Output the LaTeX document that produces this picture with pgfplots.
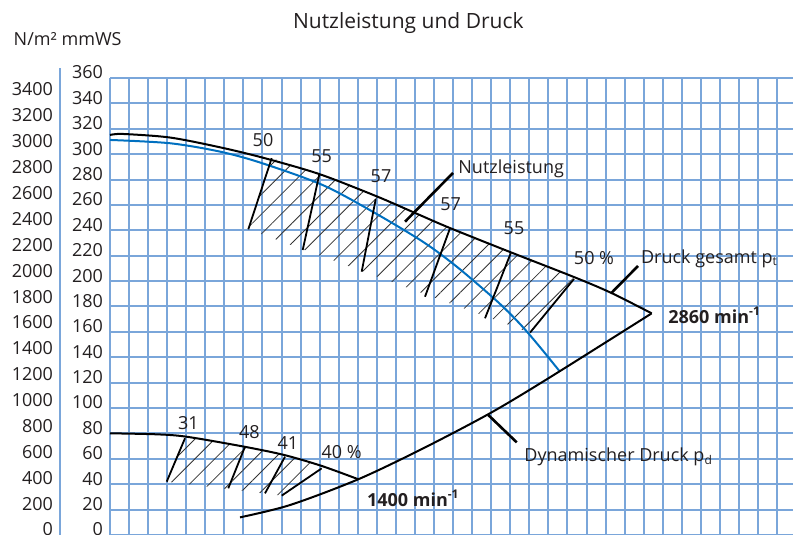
\documentclass[border=0pt]{standalone}
\usepackage{fontspec}
\setmainfont{Open Sans}
\usepackage{pgfplots}
\pgfplotsset{compat=1.18}
\usetikzlibrary{patterns.meta}
\definecolor{gridblue}{RGB}{122,166,218}
\definecolor{curveblue}{RGB}{0,112,192}
\definecolor{txt}{RGB}{35,31,32}
\newcommand{\lab}{\fontsize{9}{10}\selectfont}
\begin{document}
\begin{tikzpicture}
\useasboundingbox (0pt,0pt) rectangle (396.5pt,267.5pt);
% secondary N/m^2 scale
\begin{axis}[
  at={(30pt,0pt)}, anchor=south west,
  scale only axis, width=1pt, height=233.5pt,
  xmin=0, xmax=1, ymin=0, ymax=3609,
  axis x line=none, axis y line=left,
  axis line style={-, gridblue, line width=0.8pt},
  ytick={0,200,...,3400},
  major tick length=0pt,
  yticklabel style={font=\lab, text=txt, yshift=2.75pt},
  /pgf/number format/assume math mode=true,
  /pgf/number format/1000 sep={},
]
\addplot[draw=none] coordinates {(0,0)};
\end{axis}
% main axis
\begin{axis}[
  at={(55pt,0pt)}, anchor=south west,
  scale only axis, width=341.5pt, height=228.5pt,
  xmin=0, xmax=35.834, ymin=0, ymax=360,
  xtick={0,...,35}, xticklabels={},
  ytick={0,20,...,360},
  grid=major, major grid style={gridblue, line width=1pt},
  axis line style={draw=none},
  major tick length=0pt,
  yticklabel style={font=\lab, text=txt, yshift=2.75pt},
  /pgf/number format/assume math mode=true,
  /pgf/number format/1000 sep={},
  clip=false,
]
% hatched efficiency zones
\addplot[draw=none, pattern={Lines[angle=45,distance=7pt,line width=0.4pt]}, pattern color=black!80]
  coordinates {(8.483,296.8)(10.965,284.4)(13.956,267.0)(16.002,253.7)(17.838,241.8)(21.076,222.4)(24.344,203.2)(22.036,159.4)(7.256,240.8)} -- cycle;
\addplot[draw=none, pattern={Lines[angle=45,distance=7pt,line width=0.4pt]}, pattern color=black!80]
  coordinates {(3.935,76.2)(4.024,77.4)(7.030,69.6)(9.145,63.0)(11.107,54.4)(9.008,31.0)(2.975,42.0)} -- cycle;
% Nutzleistung (blue)
\addplot[curveblue, line width=1pt, smooth, tension=0.5] coordinates {
  (0,311.2)(3.148,308.6)(5.771,302.0)(7.938,293.1)(11.154,275.7)(13.778,254.7)(16.438,230.8)(18.190,211.4)(19.937,189.1)(20.813,177.0)(21.684,163.4)(22.560,148.0)(23.610,128.6)};
% Druck gesamt 2860
\addplot[black, line width=1pt, smooth, tension=0.5] coordinates {
  (0,315.1)(0.682,315.9)(3.148,313.1)(5.771,305.4)(8.027,297.2)(10.965,284.4)(13.956,267.0)(16.002,253.7)(17.838,241.8)(21.076,222.4)(24.344,203.2)(26.270,190.9)(28.420,174.6)};
% Dynamischer Druck
\addplot[black, line width=1pt, smooth, tension=0.5] coordinates {
  (6.821,13.9)(9.444,23.6)(13.027,43.9)(16.438,68.3)(19.937,95.9)(22.996,123.4)(28.420,174.6)};
% Druck gesamt 1400
\addplot[black, line width=1pt, smooth, tension=0.5] coordinates {
  (0,80.1)(2.450,79.3)(4.024,77.4)(7.030,69.6)(9.145,63.0)(11.107,54.4)(13.027,43.9)};
% efficiency marker lines
\addplot[black, line width=0.9pt] coordinates {(8.483,296.8)(7.256,240.8)};
\addplot[black, line width=0.9pt] coordinates {(10.982,284.1)(10.11,224.5)};
\addplot[black, line width=0.9pt] coordinates {(13.939,264.5)(13.205,207.4)};
\addplot[black, line width=0.9pt] coordinates {(17.838,241.6)(16.527,187.7)};
\addplot[black, line width=0.9pt] coordinates {(21.023,221.9)(19.675,170.7)};
\addplot[black, line width=0.9pt] coordinates {(24.344,201.7)(22.036,159.4)};
\addplot[black, line width=0.9pt] coordinates {(3.935,76.2)(2.975,42.0)};
\addplot[black, line width=0.9pt] coordinates {(7.083,69.6)(6.207,36.8)};
\addplot[black, line width=0.9pt] coordinates {(9.182,61.7)(8.132,32.8)};
\addplot[black, line width=0.9pt] coordinates {(11.107,52.5)(9.008,31.0)};
% leader lines
\addplot[black, line width=1.3pt] coordinates {(17.996,285.2)(15.477,246.8)};
\addplot[black, line width=1.3pt] coordinates {(27.702,211.9)(26.322,190.9)};
\addplot[black, line width=1.3pt] coordinates {(21.338,73.0)(19.848,94.5)};
% labels
\begin{scope}[every node/.style={font=\lab, text=txt, inner sep=0pt}]
\node at (axis cs:8.027,311.2) {50};
\node at (axis cs:11.107,298.6) {55};
\node at (axis cs:14.218,282.3) {57};
\node at (axis cs:17.875,260.8) {57};
\node at (axis cs:21.196,241.8) {55};
\node at (axis cs:25.393,218.2) {50 \%};
\node[anchor=base west] at (axis cs:18.258,284.9) {Nutzleistung};
\node[anchor=base west] at (axis cs:27.844,214.0) {Druck gesamt p\textsubscript{t}};
\node[anchor=base west, font=\lab\bfseries] at (axis cs:29.276,166.8) {2860 min\textsuperscript{-1}};
\node[anchor=base west] at (axis cs:21.721,57.7) {Dynamischer Druck p\textsubscript{d}};
\node[anchor=base west, font=\lab\bfseries] at (axis cs:13.468,22.8) {1400 min\textsuperscript{-1}};
\node at (axis cs:4.108,88.2) {31};
\node at (axis cs:7.308,81.0) {48};
\node at (axis cs:9.33,72.6) {41};
\node at (axis cs:12.156,65.0) {40 \%};
\end{scope}
\end{axis}
\node[anchor=base, font=\fontsize{10.5}{12}\selectfont, text=txt, inner sep=0pt] at (204.15pt,253.35pt) {Nutzleistung und Druck};
\node[anchor=base west, font=\lab, text=txt, inner sep=0pt] at (6.65pt,244.5pt) {N/m² mmWS};
\end{tikzpicture}
\end{document}
